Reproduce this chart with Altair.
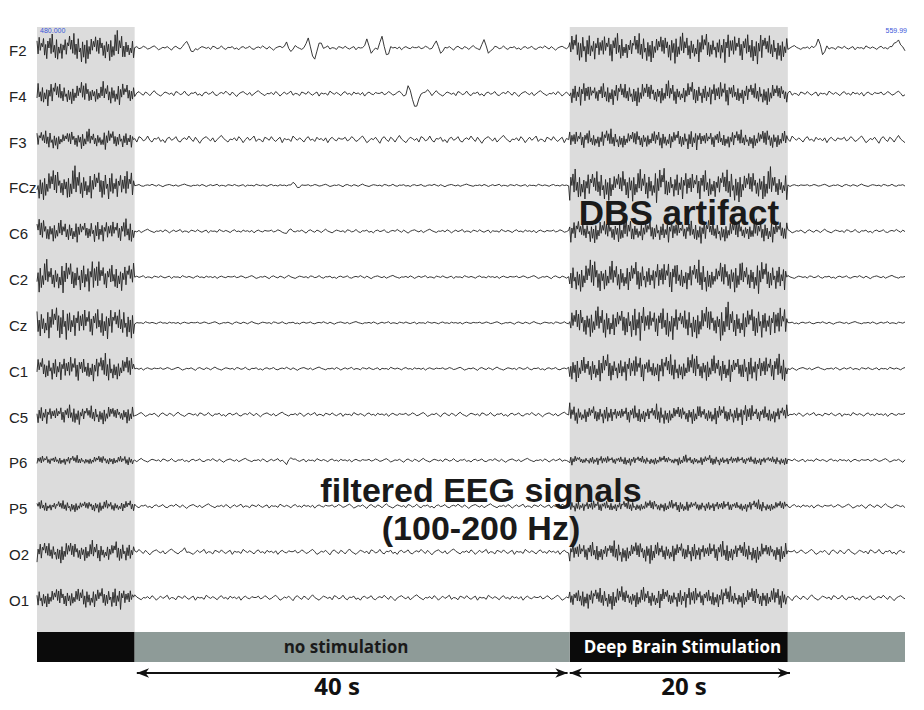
import altair as alt
import numpy as np
import pandas as pd

# ---------------- data ----------------
channels = ["F2", "F4", "F3", "FCz", "C6", "C2", "Cz", "C1", "C5", "P6", "P5", "O2", "O1"]
# half-amplitude of the DBS artifact per channel (uV)
artifact_amp = [14, 11, 9, 15, 11, 15, 16, 13, 9, 4.5, 5.5, 10, 10]
# amplitude of the background activity per channel (uV)
quiet_amp = [3.5, 4.5, 6.0, 2.0, 3.0, 2.5, 2.0, 2.5, 3.5, 3.0, 3.5, 4.5, 4.5]

# normalised artifact waveform (samples every 0.1 s)
artifact_wave = [0.6, -0.5, 0.9, -0.2, 0.4, 0.1, 0.8, -0.6, 0.3, -0.9, 0.5, 0.0, 0.7, -0.4, 1.0,
                 -0.3, 0.2, -0.7, 0.6, -0.8, 0.1, -0.5, 0.4, -1.0, 0.3, -0.2, 0.8, -0.6, 0.5, 0.2,
                 0.9, -0.1, 0.6, -0.4, 1.1, -0.5, 0.3, -0.8, 0.7, -0.3, 0.0, -0.9, 0.4, -0.6, 0.2,
                 -1.0, 0.5, -0.7, 0.1, -0.4, 0.8, -0.2, 0.6, 0.1, 1.0, -0.3, 0.7, -0.5, 0.9, 0.0,
                 0.4, -0.6, 0.2, -0.8, 0.5, -0.3, 0.3, -1.0, 0.6, -0.7, 0.1, -0.5, 0.9, -0.2, 1.2,
                 -0.4, 0.5, 0.0, 0.8, -0.6, 0.2, -0.9, 0.6, -0.4, 0.3, -0.7, 0.0, -0.5, 0.7, -1.0,
                 0.4, -0.3, 0.9, -0.1, 0.6, 0.2, 1.0, -0.5, 0.4, -0.8, 0.3, -0.6, 0.7, -0.2, 0.1,
                 -0.9, 0.5, -0.4, 0.8, -0.7, 0.2, -0.3, 0.6, -1.0, 0.4, 0.0, 0.9, -0.6, 0.5, -0.2]
# slow waxing / waning of the artifact (one value per second)
art_envelope = [0.85, 1.0, 0.75, 0.95, 1.1, 0.8, 0.9, 1.05, 0.7, 0.95, 1.0, 0.8, 1.1, 0.9,
                0.85, 1.0, 0.75, 1.05, 0.9, 0.95, 1.15, 0.8, 0.9]

# normalised background activity (samples every 0.2 s)
quiet_wave = [0.1, 0.4, -0.2, 0.0, 0.5, 0.2, -0.3, -0.1, 0.3, 0.6, 0.1, -0.5, -0.2, 0.2,
              0.0, 0.4, -0.1, -0.6, 0.2, 0.5, 0.0, -0.3, 0.4, 0.1, -0.4, 0.2, 0.7, 0.1,
              -0.2, -0.5, 0.0, 0.4, 0.2, -0.1, 0.2, -0.4, 0.5, 0.3, -0.2, 0.0, 0.6, -0.1,
              -0.4, 0.2, 0.1, 0.4, -0.3, 0.0, -0.5, 0.2, 0.4, -0.1, 0.1, 0.5, -0.2, -0.4,
              0.1, 0.3, 0.0, 0.6, 0.1, -0.3, 0.4, -0.1, -0.6, 0.0, 0.3, 0.5, 0.1, -0.2,
              0.3, -0.4, 0.0, 0.4, 0.7, 0.2, -0.1, -0.4, 0.1, 0.0, 0.3, -0.2, 0.5, 0.1,
              -0.5, 0.0, 0.4, -0.1, 0.2, 0.6, -0.3, 0.1, 0.0, -0.4, 0.4, 0.2, -0.1, 0.5,
              0.0, -0.3, 0.1, 0.4, -0.5, 0.2, 0.0, 0.1, -0.3, 0.6, 0.2, -0.1, 0.3, 0.0,
              -0.4, 0.2, 0.5, -0.1, 0.1, -0.3, 0.4, 0.0, 0.2, -0.2, 0.3, -0.5, 0.1, 0.4,
              0.0, -0.2, 0.3, 0.1]

spike_shape = [0.0, 0.5, 1.0, 0.2, -0.7, -0.5, 0.0]
slow_shape = [0.0, 0.6, 0.3, -0.6, -1.0, -0.8, -0.5, -0.2, 0.1, 0.25, 0.2, 0.1, 0.0]
round_shape = [0.2, 0.6, 0.9, 1.0, 0.7, 0.1, -0.6, -0.7]
shapes = {"spike": spike_shape, "slow": slow_shape, "round": round_shape}

# transient events in the unstimulated periods: channel, time (s), amplitude (uV), shape
ev_channel = ["F2", "F2", "F2", "F2", "F2", "F2", "F2", "F2", "F2", "F2",
              "F4", "FCz", "C6", "P6", "O2"]
ev_time = [493.46, 502.58, 504.52, 505.16, 509.95, 511.34, 516.50, 520.83, 551.52, 558.9,
           514.10, 503.13, 502.67, 502.67, 493.18]
ev_amp = [8, 5, 9, -7, 7, 10, 5, 7, 9, 7,
          12, 3, -3, -3, 3]
ev_shape = ["spike", "spike", "spike", "spike", "spike", "spike", "spike", "spike", "spike", "round",
            "slow", "spike", "spike", "spike", "spike"]

# recording periods (s)
period_start = [480.0, 489.0, 529.1, 549.2]
period_end = [489.0, 529.1, 549.2, 560.0]
period_kind = ["stim", "none", "stim", "none"]
period_label = ["", "no stimulation", "Deep Brain Stimulation", ""]

time_start_label = "480.000"
time_end_label = "559.99"

# ---------------- build the traces ----------------
SP = 45.83  # vertical offset between channels (uV)
rows = []
for i, ch in enumerate(channels):
    base = i * SP
    a_idx = 13 * i
    q_idx = 17 * i
    for p in range(len(period_start)):
        s, e, kind = period_start[p], period_end[p], period_kind[p]
        step = 0.1 if kind == "stim" else 0.2
        ts = np.round(np.arange(s, e - 1e-9, step), 3)
        if p == len(period_start) - 1:
            ts = np.append(ts, e)
        if kind == "stim":
            vals = np.array([artifact_amp[i]
                             * art_envelope[(int(t - 480) + 3 * i) % len(art_envelope)]
                             * artifact_wave[(a_idx + k) % len(artifact_wave)]
                             for k, t in enumerate(ts)])
            a_idx += len(ts)
        else:
            vals = np.array([quiet_amp[i] * quiet_wave[(q_idx + k) % len(quiet_wave)]
                             for k in range(len(ts))])
            q_idx += len(ts)
            for c, te, am, sh in zip(ev_channel, ev_time, ev_amp, ev_shape):
                if c == ch and s <= te < e:
                    k0 = int(np.argmin(np.abs(ts - te)))
                    for j, sv in enumerate(shapes[sh]):
                        if k0 + j < len(vals):
                            vals[k0 + j] += am * sv
        for t, v in zip(ts, vals):
            rows.append({"ch": ch, "t": float(t), "y": base - float(v)})
trace_df = pd.DataFrame(rows)

label_df = pd.DataFrame({"ch": channels, "t": 477.42,
                         "y": [i * SP + 3 for i in range(len(channels))]})

band_df = pd.DataFrame({"t0": [period_start[k] for k in range(4) if period_kind[k] == "stim"],
                        "t1": [period_end[k] for k in range(4) if period_kind[k] == "stim"],
                        "y0": -21, "y1": 584})
bar_df = pd.DataFrame({"t0": period_start, "t1": period_end, "kind": period_kind,
                       "y0": 584, "y1": 614})

# ---------------- chart ----------------
xs = alt.Scale(domain=[480, 560], nice=False, zero=False)
ys = alt.Scale(domain=[-23, 653], reverse=True, nice=False, zero=False)


def X(f):
    return alt.X(f, type="quantitative", scale=xs, axis=None)


def Y(f):
    return alt.Y(f, type="quantitative", scale=ys, axis=None)


bands = alt.Chart(band_df).mark_rect(color="#dcdcdc").encode(
    x=X("t0"), x2="t1", y=Y("y0"), y2="y1")

bar_stim = alt.Chart(bar_df[bar_df.kind == "stim"]).mark_rect(color="#0b0b0b").encode(
    x=X("t0"), x2="t1", y=Y("y0"), y2="y1")
bar_none = alt.Chart(bar_df[bar_df.kind == "none"]).mark_rect(color="#8e9b98").encode(
    x=X("t0"), x2="t1", y=Y("y0"), y2="y1")

traces = alt.Chart(trace_df).mark_line(strokeWidth=0.9, color="#222222",
                                       strokeJoin="round").encode(
    x=X("t"), y=Y("y"), detail="ch:N")

labels = alt.Chart(label_df).mark_text(align="left", baseline="middle", font="Liberation Sans",
                                       fontSize=15, color="#222222").encode(
    x=X("t"), y=Y("y"), text="ch:N")

tlab_l = alt.Chart(pd.DataFrame({"t": [480.28], "y": [-17.5], "txt": [time_start_label]})).mark_text(
    align="left", baseline="middle", font="Liberation Sans", fontSize=7, color="#3b55d9").encode(
    x=X("t"), y=Y("y"), text="txt:N")
tlab_r = alt.Chart(pd.DataFrame({"t": [560.18], "y": [-17.5], "txt": [time_end_label]})).mark_text(
    align="right", baseline="middle", font="Liberation Sans", fontSize=7, color="#3b55d9").encode(
    x=X("t"), y=Y("y"), text="txt:N")

big1 = alt.Chart(pd.DataFrame({"t": [539.17], "y": [177], "txt": ["DBS artifact"]})).mark_text(
    align="center", baseline="alphabetic", font="Liberation Sans", fontWeight="bold",
    fontSize=35, color="#1a1a1a").encode(x=X("t"), y=Y("y"), text="txt:N")
big2 = alt.Chart(pd.DataFrame({"t": [520.92, 520.92], "y": [454, 492],
                               "txt": ["filtered EEG signals", "(100-200 Hz)"]})).mark_text(
    align="center", baseline="alphabetic", font="Liberation Sans", fontWeight="bold",
    fontSize=34, color="#1a1a1a").encode(x=X("t"), y=Y("y"), text="txt:N")

bt_none = alt.Chart(pd.DataFrame({"t": [508.48], "y": [605], "txt": [period_label[1]]})).mark_text(
    align="center", baseline="alphabetic", font="Open Sans", fontWeight="bold", fontSize=17,
    color="#1a1a1a").encode(x=X("t"), y=Y("y"), text="txt:N")
bt_stim = alt.Chart(pd.DataFrame({"t": [539.49], "y": [605], "txt": [period_label[2]]})).mark_text(
    align="center", baseline="alphabetic", font="Open Sans", fontWeight="bold", fontSize=17,
    color="#ffffff").encode(x=X("t"), y=Y("y"), text="txt:N")

arr_df = pd.DataFrame({"t0": [489.2, 529.1], "t1": [528.9, 549.4], "y": [625, 625]})
arrows = alt.Chart(arr_df).mark_rule(strokeWidth=2, color="#111111").encode(
    x=X("t0"), x2="t1", y=Y("y"))
head_df = pd.DataFrame({"t": [489.2, 528.9, 529.1, 549.4], "y": 625, "dir": ["l", "r", "l", "r"]})
path_r = "M0,0 L-1,-0.38 L-0.72,0 L-1,0.38 Z"
path_l = "M0,0 L1,-0.38 L0.72,0 L1,0.38 Z"
heads = alt.Chart(head_df).mark_point(filled=True, size=600, color="#111111", opacity=1).encode(
    x=X("t"), y=Y("y"),
    shape=alt.Shape("dir:N", scale=alt.Scale(domain=["l", "r"], range=[path_l, path_r]), legend=None))

dur_df = pd.DataFrame({"t": [507.65, 539.63], "y": [647, 647], "txt": ["40 s", "20 s"]})
dur = alt.Chart(dur_df).mark_text(
    align="center", baseline="alphabetic", font="Open Sans", fontWeight="bold",
    fontSize=24, color="#111111").encode(x=X("t"), y=Y("y"), text="txt:N")

chart = alt.layer(bands, bar_stim, bar_none, traces, labels, tlab_l, tlab_r, big1, big2,
                  bt_none, bt_stim, arrows, heads, dur).properties(
    width=868, height=676,
    padding={"left": 29, "top": 17, "right": 11, "bottom": 0},
    autosize=alt.AutoSizeParams(type="none"),
    background="white",
).configure_view(stroke=None)

chart.save("out.html", embed_options={"renderer": "svg", "actions": False})
